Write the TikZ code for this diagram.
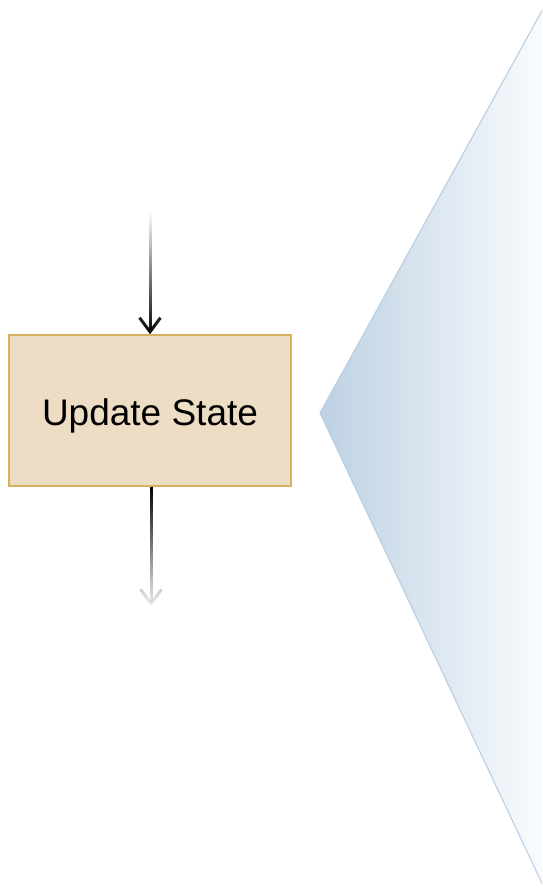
\documentclass[tikz,border=0pt]{standalone}
\usepackage{fontspec}
\setmainfont{Liberation Sans}
\usetikzlibrary{arrows.meta,fadings,shadings}
\definecolor{boxfill}{HTML}{EDDDC4}
\definecolor{boxline}{HTML}{D9B05C}
\definecolor{chevL}{HTML}{BDD1E3}
\definecolor{chevR}{HTML}{FBFCFE}
\definecolor{chevline}{HTML}{B5CCE4}
\tikzfading[name=fadeinN, top color=transparent!100, bottom color=transparent!0]
\tikzfading[name=fadeoutS, top color=transparent!0, bottom color=transparent!96]
\tikzset{
  procbox/.style={draw=boxline, fill=boxfill, line width=1.5pt, minimum width=282pt, minimum height=151pt, inner sep=0pt, text height=37pt, text depth=8pt, font=\fontsize{37}{42}\selectfont},
  flowarrow/.style={line width=3pt, black, -{Straight Barb[length=14pt,width=21pt]}},
}
\begin{document}
\begin{tikzpicture}[x=1pt,y=-1pt]
\useasboundingbox (0,0) rectangle (542,892);
\begin{scope}
\clip (0,0) rectangle (542,892);
\path[draw=chevline, line width=1pt, left color=chevL, right color=chevR, shading angle=90]
  (320,413) -- (549,-2) -- (547,894) -- cycle;
\end{scope}
\node[procbox] (box) at (150,410.5) {Update State};
\coordinate (inTop) at (150,213);
\coordinate (outBot) at (151,606);
\draw[flowarrow, path fading=fadeinN]
  ([xshift=-14pt]inTop) ([xshift=14pt]inTop) (inTop) -- (box.north);
\draw[flowarrow, path fading=fadeoutS]
  ([xshift=-14pt]box.south -| outBot) ([xshift=14pt]box.south -| outBot) (box.south -| outBot) -- (outBot);
\end{tikzpicture}
\end{document}
